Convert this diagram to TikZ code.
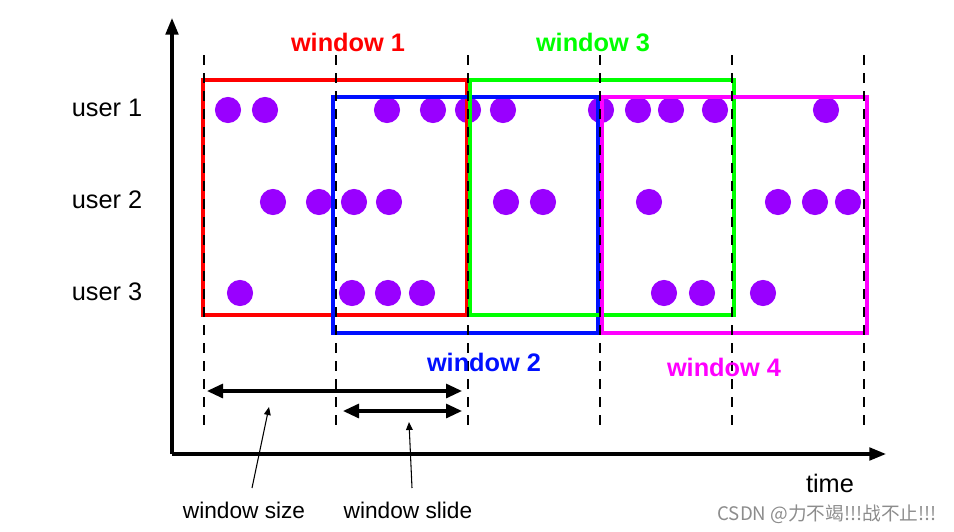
\documentclass[tikz,border=0pt]{standalone}
\usepackage{fontspec}
\setmainfont{Liberation Sans}
\newfontfamily\cjkfont{Noto Sans CJK SC}
\usetikzlibrary{arrows.meta}
\definecolor{winred}{RGB}{255,0,0}
\definecolor{wingreen}{RGB}{0,255,0}
\definecolor{winblue}{RGB}{0,16,255}
\definecolor{winmag}{RGB}{255,0,255}
\definecolor{evtpurple}{RGB}{153,0,255}
\begin{document}
\begin{tikzpicture}[x=.75pt,y=-.75pt,font=\fontsize{19}{22}\selectfont,
  evt/.style={fill=evtpurple,draw=none},
  win/.style={line width=3pt},
  tick/.style={black,line width=1.5pt,dash pattern=on 7.5pt off 6pt},
  axis/.style={line width=2.3pt,-{Triangle[length=12.5pt,width=9.5pt]}},
  span/.style={line width=2.3pt,{Triangle[length=12pt,width=10.5pt]}-{Triangle[length=12pt,width=10.5pt]}},
  ptr/.style={line width=.8pt,-{Triangle[length=6pt,width=5pt]}},
  wlabel/.style={font=\fontsize{19}{22}\selectfont\bfseries}]
\useasboundingbox (0,0) rectangle (954,532);
\coordinate (origin) at (172,454);
\coordinate (ytip) at (172,18);
\coordinate (xtip) at (886,454);
\draw[axis] (origin) -- (ytip);
\draw[axis] (origin) -- (xtip);
\foreach \x in {228,265,387,433,468,503,601,638,671,715,826} \fill[evt] (\x,110) circle[radius=9.8pt];
\foreach \x in {273,319,354,389,506,543,649,778,815,848} \fill[evt] (\x,202) circle[radius=9.8pt];
\foreach \x in {240,352,388,422,664,702,763} \fill[evt] (\x,293) circle[radius=9.8pt];
\draw[win,winred] (203,80) rectangle (467,315);
\draw[win,winblue] (333,97) rectangle (598,333);
\draw[win,wingreen] (470,80) rectangle (734,315);
\draw[win,winmag] (602,97) rectangle (867,333);
\foreach \x in {204,336,468,600,732,864} \draw[tick] (\x,55) -- (\x,430);
\node[wlabel,text=winred] (w1) at (348,42) {window 1};
\node[wlabel,text=wingreen] (w3) at (593,42) {window 3};
\node[wlabel,text=winblue] (w2) at (484,362) {window 2};
\node[wlabel,text=winmag] (w4) at (724,367) {window 4};
\node (u1) at (107,108) {user 1};
\node (u2) at (107,200) {user 2};
\node (u3) at (107,292) {user 3};
\node (time) at (830,483) {time};
\coordinate (sizeL) at (207,391);
\coordinate (sizeR) at (462,391);
\coordinate (slideL) at (343,411);
\coordinate (slideR) at (462,411);
\draw[span] (sizeL) -- (sizeR);
\draw[span] (slideL) -- (slideR);
\node[font=\fontsize{17}{20}\selectfont] (wsize) at (244,510) {window size};
\node[font=\fontsize{17}{20}\selectfont] (wslide) at (408,510) {window slide};
\coordinate (sizefoot) at (252,488);
\coordinate (sizetip) at (269,407);
\coordinate (slidefoot) at (412,488);
\coordinate (slidetip) at (409,422);
\draw[ptr] (sizefoot) -- (sizetip);
\draw[ptr] (slidefoot) -- (slidetip);
\node[text=black!45,font=\cjkfont\fontsize{14}{16}\selectfont] (mark) at (827,514) {CSDN @力不竭!!!战不止!!!};
\end{tikzpicture}
\end{document}
